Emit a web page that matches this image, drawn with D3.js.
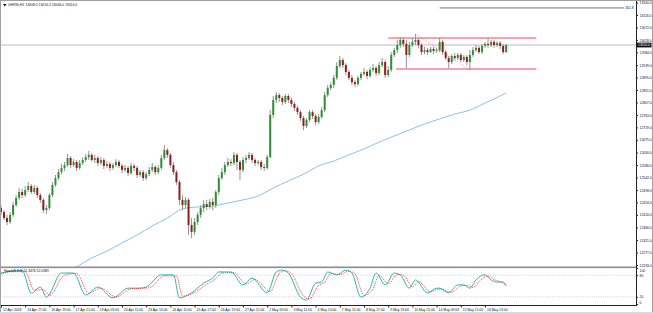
<!DOCTYPE html>
<html>
<head>
<meta charset="utf-8">
<script src="https://cdn.jsdelivr.net/npm/d3@7"></script>
<style>
body { margin: 0; background: #fff; }
svg { display: block; font-family: "Liberation Sans", Arial, sans-serif; }
</style>
</head>
<body>
<div id="main"></div>
<script>
// GER30 H1 candles, one entry per bar
const opens = [
  12434,12420,12399,12385,12410,12445,12470,12491,12480,12498,
  12512,12491,12505,12480,12463,12427,12434,12480,12516,12540,
  12561,12576,12586,12611,12586,12597,12576,12593,12604,12614,
  12622,12604,12611,12593,12604,12583,12590,12576,12586,12597,
  12583,12569,12576,12558,12583,12576,12551,12561,12540,12554,
  12569,12579,12561,12576,12611,12639,12622,12586,12561,12526,
  12463,12445,12463,12374,12350,12385,12410,12434,12448,12438,
  12456,12445,12491,12540,12561,12586,12597,12593,12622,12597,
  12569,12604,12611,12622,12604,12593,12597,12579,12576,12614,
  12763,12816,12833,12823,12809,12830,12816,12802,12788,12773,
  12752,12724,12745,12773,12759,12738,12756,12780,12833,12858,
  12869,12894,12936,12957,12939,12915,12894,12879,12872,12894,
  12908,12915,12901,12922,12929,12911,12939,12950,12904,12922,
  12975,12992,13010,13028,13014,12975,13010,13021,13028,13010,
  12985,12992,12985,12996,12989,12992,13021,12985,12964,12950,
  12971,12964,12975,12957,12968,12950,12975,12992,13000,12985,
  13007,13014,13010,13021,13010,13017,13007,12985
]
const highs = [
  12445,12427,12410,12420,12456,12480,12505,12502,12512,12526,
  12519,12516,12512,12487,12470,12445,12487,12526,12551,12572,
  12590,12597,12625,12618,12607,12604,12604,12614,12625,12636,
  12629,12622,12618,12614,12611,12600,12597,12593,12607,12604,
  12590,12586,12583,12593,12590,12583,12569,12569,12561,12579,
  12593,12586,12586,12622,12657,12646,12629,12597,12569,12533,
  12480,12473,12470,12399,12399,12420,12445,12463,12463,12466,
  12470,12498,12551,12576,12597,12611,12607,12632,12629,12604,
  12614,12622,12632,12629,12611,12604,12604,12590,12622,12780,
  12830,12844,12840,12830,12837,12837,12823,12809,12795,12780,
  12759,12752,12780,12780,12766,12766,12791,12844,12869,12879,
  12904,12950,12971,12964,12946,12922,12904,12886,12901,12915,
  12929,12922,12932,12943,12936,12950,12964,12957,12936,12985,
  13000,13028,13038,13035,13028,13021,13035,13049,13035,13017,
  13003,13000,13003,13003,13000,13035,13028,12992,12971,12978,
  12982,12982,12982,12975,12975,12992,13003,13010,13007,13014,
  13021,13035,13028,13028,13024,13024,13014,13014
]
const lows = [
  12410,12392,12374,12378,12403,12438,12463,12470,12473,12491,
  12484,12484,12470,12452,12417,12413,12427,12473,12509,12533,
  12554,12565,12579,12576,12579,12565,12569,12586,12597,12604,
  12597,12593,12583,12586,12572,12576,12565,12569,12579,12576,
  12558,12561,12547,12551,12565,12540,12544,12530,12533,12547,
  12561,12551,12554,12569,12604,12611,12576,12551,12516,12445,
  12427,12434,12339,12328,12339,12374,12399,12420,12427,12431,
  12427,12434,12480,12533,12551,12579,12583,12586,12569,12533,
  12561,12593,12604,12593,12583,12586,12569,12565,12569,12611,
  12752,12805,12809,12798,12802,12805,12791,12777,12763,12742,
  12710,12717,12738,12749,12727,12731,12749,12773,12826,12851,
  12858,12886,12929,12929,12904,12886,12869,12862,12865,12886,
  12901,12890,12894,12915,12901,12904,12932,12894,12897,12915,
  12968,12982,13000,13003,12929,12968,13003,13010,13000,12975,
  12978,12975,12982,12978,12982,12985,12975,12957,12929,12943,
  12957,12957,12950,12950,12939,12922,12968,12985,12978,12978,
  13000,13000,13003,13000,13003,12996,12978,12982
]
const closes = [
  12420,12399,12385,12410,12445,12470,12491,12480,12498,12512,
  12491,12505,12480,12463,12427,12434,12480,12516,12540,12561,
  12576,12586,12611,12586,12597,12576,12593,12604,12614,12622,
  12604,12611,12593,12604,12583,12590,12576,12586,12597,12583,
  12569,12576,12558,12583,12576,12551,12561,12540,12554,12569,
  12579,12561,12576,12611,12639,12622,12586,12561,12526,12463,
  12445,12463,12374,12350,12385,12410,12434,12448,12438,12456,
  12445,12491,12540,12561,12586,12597,12593,12622,12597,12569,
  12604,12611,12622,12604,12593,12597,12579,12576,12614,12763,
  12816,12833,12823,12809,12830,12816,12802,12788,12773,12752,
  12724,12745,12773,12759,12738,12756,12780,12833,12858,12869,
  12894,12936,12957,12939,12915,12894,12879,12872,12894,12908,
  12915,12901,12922,12929,12911,12939,12950,12904,12922,12975,
  12992,13010,13028,13014,12975,13010,13021,13028,13010,12985,
  12992,12985,12996,12989,12992,13021,12985,12964,12950,12971,
  12964,12975,12957,12968,12950,12975,12992,13000,12985,13007,
  13014,13010,13021,13010,13017,13007,12985,13010
]

// moving average (blue), read at bar indices
const maIdx = [24,26,30,35,40,45,50,55,60,65,70,75,80,85,90,95,100,105,110,115,120,125,130,135,140,145,150,155,160,165,167]
const maVal = [12219,12233,12258,12282,12311,12339,12371,12399,12431,12438,12441,12452,12463,12477,12505,12530,12554,12583,12600,12622,12643,12667,12689,12710,12731,12749,12766,12780,12805,12830,12841]

// stochastic main and signal, [bar index, value]
const stochMain = [[0,86],[4,92],[7,93],[10,30],[13,47],[15,19],[20,86],[24,86],[28,25],[32,47],[37,17],[42,44],[46,44],[48,47],[53,81],[57,81],[59,17],[63,31],[67,58],[70,72],[72,89],[76,89],[80,53],[83,72],[88,31],[91,89],[93,94],[95,86],[99,19],[101,11],[104,58],[106,61],[108,89],[111,81],[114,94],[116,86],[119,19],[122,44],[124,86],[127,53],[130,86],[132,81],[135,44],[137,67],[141,31],[144,44],[145,44],[148,31],[151,53],[153,53],[155,44],[157,67],[160,81],[162,67],[164,61],[166,61],[167,51]]
const stochSignal = [[0,84],[5,91],[8,90],[11,38],[14,40],[16,24],[21,80],[25,85],[29,30],[33,44],[38,20],[43,42],[47,44],[49,45],[54,78],[58,78],[60,22],[64,32],[68,55],[71,70],[73,86],[77,87],[81,56],[84,68],[89,35],[92,85],[94,92],[96,84],[100,22],[102,14],[105,52],[107,60],[109,84],[112,82],[115,91],[117,84],[120,24],[123,42],[125,80],[128,56],[131,82],[133,80],[136,48],[138,62],[142,34],[145,42],[149,33],[152,50],[154,52],[156,46],[158,62],[161,78],[163,68],[165,62],[167,52]]

const priceTicks = [13160,13116,13072,13028,12984,12939,12895,12851,12807,12763,12719,12675,12630,12586,12542,12498,12454,12410,12366,12321,12277,12233]
const stochTicks = [100,80,20,0]
const dateIdx = [0,8,16,24,32,40,48,56,64,72,80,88,96,104,112,120,128,136,144,152,160]
const dateLabels = ['12 Apr 2018','13 Apr 17:00','16 Apr 19:00','17 Apr 21:00','19 Apr 09:00','20 Apr 11:00','23 Apr 13:00','24 Apr 15:00','25 Apr 17:00','26 Apr 19:00','27 Apr 21:00','2 May 09:00','3 May 11:00','4 May 13:00','7 May 15:00','8 May 17:00','9 May 19:00','10 May 21:00','14 May 09:00','15 May 11:00','16 May 13:00']

// drawn objects: [idx1, price1, idx2, price2]
const channelLines = [[128,13035,177,13035],[130.6,12925,177,12925]]
const trendLines = [[137,13049,155,12922]]
const fibLine = [145,13141,206,13141]
const fibLabel = '161.8'
const lastPrice = 13010
const title = 'GER30,H1  13008.0 13014.0 13006.0 13010.0'
const stochTitle = 'Stoch(8,3,3) 51.3476 52.0389'

const W = 653, H = 314
const AX = 636          // price axis x
const MAIN_B = 267      // bottom of price pane
const SUB_T = 268, SUB_B = 304, BOT = 305
const FS = 3.4
const FONT = '"Liberation Sans", Arial, sans-serif'

const x = d3.scaleLinear().domain([0, 210]).range([1, 1 + 210 * 3.025])
const y = d3.scaleLinear().domain([12226, 13169]).range([MAIN_B, 0])
const ys = d3.scaleLinear().domain([0, 100]).range([SUB_B, SUB_T])

const svg = d3.select('#main').append('svg').attr('width', W).attr('height', H)
svg.append('rect').attr('width', W).attr('height', H).attr('fill', '#fff')

const defs = svg.append('defs')
defs.append('clipPath').attr('id', 'mainClip').append('rect').attr('x', 0).attr('y', 0).attr('width', AX).attr('height', MAIN_B)
defs.append('clipPath').attr('id', 'subClip').append('rect').attr('x', 0).attr('y', SUB_T).attr('width', AX).attr('height', SUB_B - SUB_T)

const main = svg.append('g').attr('clip-path', 'url(#mainClip)')

// bid line
main.append('line').attr('x1', 0).attr('x2', AX).attr('y1', y(lastPrice)).attr('y2', y(lastPrice))
  .attr('stroke', '#d2d2d2').attr('stroke-width', 1.5)

// fibo level
main.append('line').attr('x1', x(fibLine[0])).attr('x2', x(fibLine[2])).attr('y1', y(fibLine[1])).attr('y2', y(fibLine[3]))
  .attr('stroke', '#555').attr('stroke-width', 0.8)
main.append('text').attr('x', x(fibLine[2]) + 1).attr('y', y(fibLine[1]) + 1).attr('font-size', FS).attr('fill', '#111').text(fibLabel)

// MA
main.append('path').datum(maIdx.map((d, i) => [d, maVal[i]]))
  .attr('fill', 'none').attr('stroke', '#87c3f0').attr('stroke-width', 1)
  .attr('d', d3.line().x(d => x(d[0])).y(d => y(d[1])).curve(d3.curveMonotoneX))

// channel
main.selectAll('line.ch').data(channelLines).join('line').attr('class', 'ch')
  .attr('x1', d => x(d[0])).attr('y1', d => y(d[1])).attr('x2', d => x(d[2])).attr('y2', d => y(d[3]))
  .attr('stroke', '#f6a3b0').attr('stroke-width', 2)
main.selectAll('line.tl').data(trendLines).join('line').attr('class', 'tl')
  .attr('x1', d => x(d[0])).attr('y1', d => y(d[1])).attr('x2', d => x(d[2])).attr('y2', d => y(d[3]))
  .attr('stroke', '#e46a6a').attr('stroke-width', 0.8).attr('stroke-dasharray', '1,1.5')

// candles
const bars = closes.map((c, i) => ({ i, o: opens[i], h: highs[i], l: lows[i], c }))
const gc = main.append('g')
gc.selectAll('line').data(bars).join('line')
  .attr('x1', d => x(d.i)).attr('x2', d => x(d.i))
  .attr('y1', d => y(d.h)).attr('y2', d => y(d.l))
  .attr('stroke', '#939393').attr('stroke-width', 1)
gc.selectAll('rect').data(bars).join('rect')
  .attr('x', d => x(d.i) - 1).attr('width', 2)
  .attr('y', d => y(Math.max(d.o, d.c)))
  .attr('height', d => Math.max(0.8, Math.abs(y(d.o) - y(d.c))))
  .attr('fill', d => d.c >= d.o ? '#2f8f35' : '#8e1d1d')

// title
svg.append('path').attr('d', 'M3,4 L6.5,4 L4.75,6.5 Z').attr('fill', '#111')
svg.append('text').attr('x', 8).attr('y', 6.3).attr('font-size', FS).attr('fill', '#111').text(title)

// price axis
const pAxis = svg.append('g').attr('transform', `translate(${AX},0)`)
  .call(d3.axisRight(y).tickValues(priceTicks).tickFormat(d => d.toFixed(1)).tickSize(2).tickPadding(1.5))
pAxis.select('.domain').remove()
pAxis.selectAll('text').attr('font-size', FS).attr('fill', '#111').attr('font-family', FONT)
pAxis.selectAll('line').attr('stroke', '#222')

// current price box
svg.append('rect').attr('x', AX + 1).attr('y', y(lastPrice) - 2.4).attr('width', 14.5).attr('height', 4.8).attr('fill', '#111')
svg.append('text').attr('x', AX + 2).attr('y', y(lastPrice) + 1.2).attr('font-size', FS).attr('fill', '#fff').text(lastPrice.toFixed(1))

// pane separator
svg.append('rect').attr('x', 0).attr('y', MAIN_B - 0.5).attr('width', AX + 1).attr('height', 1.6).attr('fill', '#8c8c8c')

// stochastic pane
const sub = svg.append('g').attr('clip-path', 'url(#subClip)')
sub.selectAll('line.lvl').data([80, 20]).join('line').attr('class', 'lvl')
  .attr('x1', 0).attr('x2', AX).attr('y1', d => ys(d)).attr('y2', d => ys(d))
  .attr('stroke', '#b4b4b4').attr('stroke-width', 0.6).attr('stroke-dasharray', '1,1.2')
const sline = d3.line().x(d => x(d[0])).y(d => ys(d[1])).curve(d3.curveMonotoneX)
sub.append('path').datum(stochMain).attr('fill', 'none').attr('stroke', '#2bb8ad').attr('stroke-width', 1).attr('d', sline)
sub.append('path').datum(stochSignal).attr('fill', 'none').attr('stroke', '#ee3030').attr('stroke-width', 0.9)
  .attr('stroke-dasharray', '1,1').attr('d', sline)
svg.append('text').attr('x', 4).attr('y', SUB_T + 3.5).attr('font-size', FS).attr('fill', '#111').text(stochTitle)

const sAxis = svg.append('g').attr('transform', `translate(${AX},0)`)
  .call(d3.axisRight(ys).tickValues(stochTicks).tickSize(2).tickPadding(1.5))
sAxis.select('.domain').remove()
sAxis.selectAll('text').attr('font-size', FS).attr('fill', '#111').attr('font-family', FONT)
  .attr('dy', d => d === 100 ? '1.1em' : d === 0 ? '-0.2em' : '0.32em')
sAxis.selectAll('line').attr('stroke', '#222')

// frame lines
svg.append('line').attr('x1', AX + 0.5).attr('x2', AX + 0.5).attr('y1', 0).attr('y2', BOT).attr('stroke', '#222').attr('stroke-width', 1)
svg.append('line').attr('x1', 0).attr('x2', AX + 1).attr('y1', BOT + 0.5).attr('y2', BOT + 0.5).attr('stroke', '#222').attr('stroke-width', 1)

// time axis
const tAxis = svg.append('g').attr('transform', `translate(0,${BOT + 0.5})`)
  .call(d3.axisBottom(x).tickValues(dateIdx).tickFormat((d, i) => dateLabels[i]).tickSize(2).tickPadding(1))
tAxis.select('.domain').remove()
tAxis.selectAll('text').attr('font-size', FS).attr('fill', '#111').attr('text-anchor', 'start').attr('dx', 1.5)
  .attr('font-family', FONT)
tAxis.selectAll('line').attr('stroke', '#222')

// window border
svg.append('rect').attr('x', 0.5).attr('y', 0.5).attr('width', W - 1).attr('height', H - 1)
  .attr('fill', 'none').attr('stroke', '#a0a0a0')
svg.append('rect').attr('x', 0).attr('y', H - 2).attr('width', W).attr('height', 2).attr('fill', '#d8d8d8')
</script>
</body>
</html>
